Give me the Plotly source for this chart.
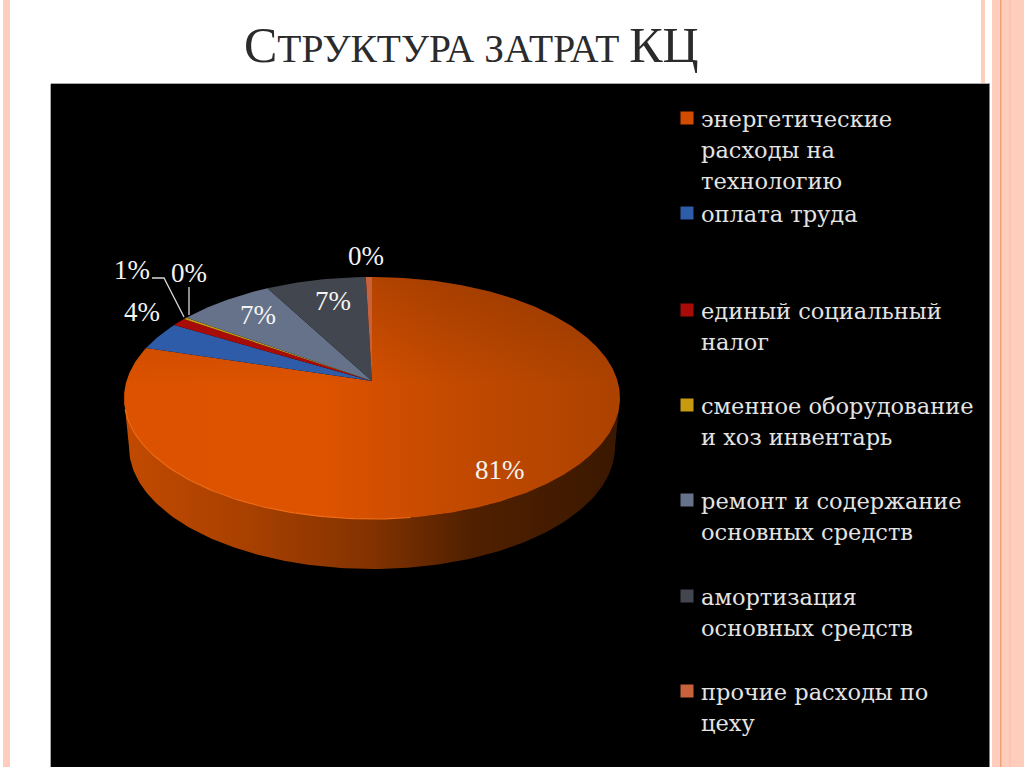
import numpy as np
import plotly.graph_objects as go

categories = [["энергетические", "расходы на", "технологию"], ["оплата труда"],
              ["единый социальный", "налог"], ["сменное оборудование", "и хоз инвентарь"],
              ["ремонт и содержание", "основных средств"], ["амортизация", "основных средств"],
              ["прочие расходы по", "цеху"]]
values = [81.49, 3.5, 1.0, 0.25, 6.5, 6.5, 0.4]
colors = ["#D24C00", "#2F5CA8", "#A80C08", "#C89A10", "#66728A", "#42464E", "#C8623C"]
legend_y = [118, 213, 310, 405, 500, 596, 691]
label_pos = [(500, 470), (142, 312), (132, 270), (189, 273), (258, 315), (333, 301), (366, 256)]

CX, CY, RX, RY = 372, 398, 248, 121      # top face ellipse
APEX = (372, 381)
BX, BY, BRX, BRY = 372, 447, 243, 122    # lower rim ellipse

def top(t):
    return CX + RX*np.sin(t), CY - RY*np.cos(t)

def bot(t):
    return BX + BRX*np.sin(t), BY - BRY*np.cos(t)

fig = go.Figure()
# rim
tr = np.linspace(np.pi/2, 3*np.pi/2, 160)
x1, y1 = top(tr)
x2, y2 = bot(tr[::-1])
fig.add_trace(go.Scatter(
    x=np.r_[x1, x2], y=np.r_[y1, y2], mode="lines", fill="toself", line=dict(width=0),
    fillcolor="#8A3400", hoverinfo="skip", showlegend=False,
    fillgradient=dict(type="horizontal", colorscale=[
        [0, "#C24A00"], [0.25, "#A84000"], [0.5, "#823200"], [0.7, "#502000"], [1, "#3A1700"]]),
))
# slices (clockwise from the top, first slice starts at 12 o'clock)
total = sum(values)
edges = np.r_[0, np.cumsum(values)] / total * 2*np.pi
for i, (v, c) in enumerate(zip(values, colors)):
    t = np.linspace(edges[i], edges[i+1], max(4, int(v*6)))
    xs, ys = top(t)
    px, py = np.r_[APEX[0], xs, APEX[0]], np.r_[APEX[1], ys, APEX[1]]
    kw = {}
    if i == 0:
        kw["fillgradient"] = dict(type="horizontal", colorscale=[
            [0, "#DC5200"], [0.4, "#DE5300"], [0.65, "#C44A00"], [1, "#AC4200"]])
    fig.add_trace(go.Scatter(
        x=px, y=py, mode="lines", fill="toself", line=dict(width=0), fillcolor=c,
        hoverinfo="skip", showlegend=False, **kw))
    if i == 0:
        # shade of the far part of the face
        fig.add_trace(go.Scatter(
            x=px, y=py, mode="lines", fill="toself", line=dict(width=0),
            hoverinfo="skip", showlegend=False,
            fillgradient=dict(type="vertical", colorscale=[
                [0, "rgba(0,0,0,0)"], [0.55, "rgba(0,0,0,0)"], [1, "rgba(0,0,0,0.16)"]])))
# bright bevel on the near-left edge of the face
tb = np.linspace(np.pi*0.95, np.pi*1.47, 80)
xb, yb = top(tb)
fig.add_trace(go.Scatter(x=xb, y=yb, mode="lines", line=dict(color="#F06C14", width=1.2),
                         hoverinfo="skip", showlegend=False))
# legend swatches
fig.add_trace(go.Scatter(
    x=[687]*len(legend_y), y=legend_y, mode="markers",
    marker=dict(symbol="square", size=13, color=colors, line=dict(width=0)),
    hoverinfo="skip", showlegend=False))

ann = []
for v, (lx, ly) in zip(values, label_pos):
    ann.append(dict(x=lx, y=ly, text=f"{int(v + 0.5)}%", showarrow=False, xanchor="center", yanchor="middle",
                    font=dict(family="Liberation Serif", size=27, color="#F4F4F4")))
for lines, y in zip(categories, legend_y):
    for j, line in enumerate(lines):
        ann.append(dict(x=699, y=y+1+31*j, text=line, showarrow=False, xanchor="left", yanchor="middle", align="left",
                        font=dict(family="DejaVu Serif", size=22.5, color="#E4E4E4")))
big, small = 50, 39.5
ann.append(dict(x=242, y=45, xanchor="left", yanchor="middle", showarrow=False,
                text=f'С<span style="font-size:{small}px">ТРУКТУРА ЗАТРАТ </span>КЦ',
                font=dict(family="Liberation Serif", size=big, color="#2B2B2B")))

pink = "#FFCDBC"
def band(x0, x1, y0=0, y1=767, c=pink):
    return dict(type="rect", xref="x", yref="y", x0=x0, x1=x1, y0=y0, y1=y1, fillcolor=c, line_width=0, layer="below")

shapes = [
    band(3, 10), band(981, 985, 0, 84), band(992, 1024),
    band(1000, 1001.5, c="#EFA274"), band(1009, 1011, c="#FFC4B0"),
    band(51, 989.5, 84, 767, c="#000000"),
    dict(type="line", x0=50.5, x1=50.5, y0=84, y1=767, line=dict(color="#A8A8A8", width=1), layer="below"),
    dict(type="line", x0=51, x1=990, y0=83.5, y1=83.5, line=dict(color="#A8A8A8", width=1), layer="below"),
    dict(type="path", path="M 152 278 L 164 278 L 184 317", line=dict(color="#D8D8D8", width=1.3)),
    dict(type="line", x0=189, x1=189, y0=287, y1=315, line=dict(color="#D8D8D8", width=1.3)),
]

fig.update_layout(
    width=1024, height=767, margin=dict(l=0, r=0, t=0, b=0),
    paper_bgcolor="#FFFFFF", plot_bgcolor="#FFFFFF",
    xaxis=dict(range=[0, 1024], visible=False, fixedrange=True),
    yaxis=dict(range=[767, 0], visible=False, fixedrange=True),
    annotations=ann, shapes=shapes,
)
fig.write_html("out.html", config=dict(displayModeBar=False),
               post_script="document.body.style.margin='0';document.documentElement.style.overflow='hidden';")
